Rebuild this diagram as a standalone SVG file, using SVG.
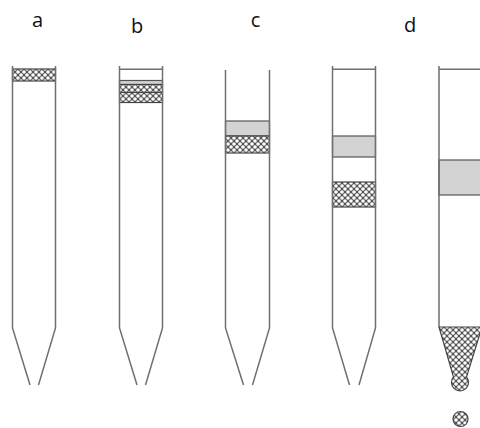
<svg xmlns="http://www.w3.org/2000/svg" width="480" height="428" viewBox="0 0 480 428">
  <style>
    .wall { fill: none; stroke: #6f6f6f; stroke-width: 1.5; stroke-linejoin: miter; }
    .cap { fill: none; stroke: #6f6f6f; stroke-width: 1.5; }
    .gel { fill: #d3d3d3; stroke: #555; stroke-width: 1.2; }
    .cell { fill: url(#mesh); stroke: #444; stroke-width: 1.2; }
    .label { font-family: "Open Sans", "Liberation Sans", sans-serif; font-size: 20px; fill: #111; text-anchor: middle; }
  </style>
  <defs>
    <!-- diagonal crosshatch used for the packed layers -->
    <pattern id="mesh" width="6" height="6" patternUnits="userSpaceOnUse">
      <rect width="6" height="6" fill="#555"/>
      <circle cx="0" cy="0" r="1.8" fill="#fff"/>
      <circle cx="6" cy="0" r="1.8" fill="#fff"/>
      <circle cx="0" cy="6" r="1.8" fill="#fff"/>
      <circle cx="6" cy="6" r="1.8" fill="#fff"/>
      <circle cx="3" cy="3" r="1.8" fill="#fff"/>
    </pattern>
  </defs>
  <rect width="480" height="428" fill="#fff"/>

  <!-- labels -->
  <g id="labels">
    <text class="label" x="37.5" y="27">a</text>
    <text class="label" x="137" y="32.5">b</text>
    <text class="label" x="255.5" y="27">c</text>
    <text class="label" x="410" y="32">d</text>
  </g>

  <!-- tube a -->
  <g id="tube-a">
    <rect class="cell" x="12.5" y="69" width="43" height="12"/>
    <path class="wall" d="M12.5,66 V328 L30,385 M55.5,66 V328 L38.5,385"/>
  </g>

  <!-- tube b -->
  <g id="tube-b">
    <line class="cap" x1="119.5" y1="69.3" x2="162.5" y2="69.3"/>
    <rect class="gel" x="119.5" y="80.5" width="43" height="4"/>
    <rect class="cell" x="119.5" y="84.5" width="43" height="8"/>
    <rect class="cell" x="119.5" y="92.5" width="43" height="10"/>
    <path class="wall" d="M119.5,66 V328 L137,385 M162.5,66 V328 L145.5,385"/>
  </g>

  <!-- tube c -->
  <g id="tube-c">
    <rect class="gel" x="225.5" y="121" width="44" height="15"/>
    <rect class="cell" x="225.5" y="136" width="44" height="17"/>
    <path class="wall" d="M225.5,70 V328 L243.5,385 M269.5,70 V328 L252.5,385"/>
  </g>

  <!-- tube d -->
  <g id="tube-d">
    <line class="cap" x1="332.5" y1="69.3" x2="375.5" y2="69.3"/>
    <rect class="gel" x="332.5" y="136" width="43" height="21"/>
    <rect class="cell" x="332.5" y="182" width="43" height="25"/>
    <path class="wall" d="M332.5,66 V328 L349.5,385 M375.5,66 V328 L359,385"/>
  </g>

  <!-- tube e: contents pushed out through the tip -->
  <g id="tube-e">
    <line class="cap" x1="439" y1="69.3" x2="482" y2="69.3"/>
    <rect class="gel" x="439" y="160" width="43" height="35"/>
    <path class="wall" d="M439,66 V327 M482,66 V327"/>
    <path class="cell" d="M439,327 H482 L466.5,377 A8.5,8.5 0 1 1 453.5,377 Z"/>
    <circle class="cell" cx="460.5" cy="419" r="7.5"/>
  </g>
</svg>
